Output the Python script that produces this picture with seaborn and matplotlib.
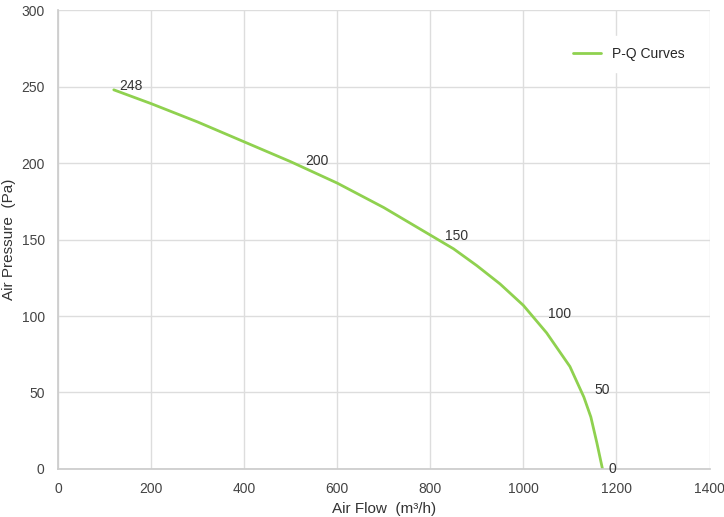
import matplotlib
matplotlib.use("Agg")
import matplotlib.pyplot as plt
import seaborn as sns
import pandas as pd

sns.set_theme(style="whitegrid")
plt.rcParams['font.family'] = ['Liberation Sans', 'DejaVu Sans']

# curve points
flow = [120, 200, 300, 400, 500, 600, 700, 800, 850, 900, 950, 1000, 1050,
        1100, 1130, 1145, 1158, 1170]
pressure = [248, 239, 227, 214, 201, 187, 171, 153, 144, 133, 121, 107, 89,
            67, 47, 34, 17, 0]

# labelled points
label_flow = [120, 520, 820, 1040, 1140, 1170]
label_pressure = [246, 197, 148, 97, 47, 0]
label_text = ["248", "200", "150", "100", "50", "0"]

df = pd.DataFrame({"flow": flow, "pressure": pressure})

fig, ax = plt.subplots(figsize=(7.24, 5.17), dpi=100)
fig.subplots_adjust(left=0.08, right=0.98, top=0.98, bottom=0.093)
sns.lineplot(data=df, x="flow", y="pressure", ax=ax, color="#8fd14f",
             linewidth=2, label="P-Q Curves")

for x, y, t in zip(label_flow, label_pressure, label_text):
    ax.annotate(t, (x, y), xytext=(4, 0), textcoords="offset points",
                fontsize=10, color="#333333", va="bottom" if t != "0" else "center")

ax.set_xlim(0, 1400)
ax.set_ylim(0, 300)
ax.set_xticks(range(0, 1401, 200))
ax.set_yticks(range(0, 301, 50))
ax.set_xlabel("Air Flow  (m³/h)", fontsize=11, color="#333333")
ax.set_ylabel("Air Pressure  (Pa)", fontsize=11, color="#333333")
ax.tick_params(labelsize=10, colors="#444444")
ax.grid(color="#dddddd", linewidth=1)
for s in ax.spines.values():
    s.set_visible(False)
ax.spines["left"].set_visible(True)
ax.spines["bottom"].set_visible(True)
ax.spines["left"].set_color("#cccccc")
ax.spines["bottom"].set_color("#cccccc")

leg = ax.legend(loc="upper right", bbox_to_anchor=(0.99, 0.96), frameon=True,
                fontsize=10, borderpad=0.8)
leg.get_frame().set_edgecolor("white")
leg.get_frame().set_alpha(1)

fig.savefig("out.png", dpi=100)
